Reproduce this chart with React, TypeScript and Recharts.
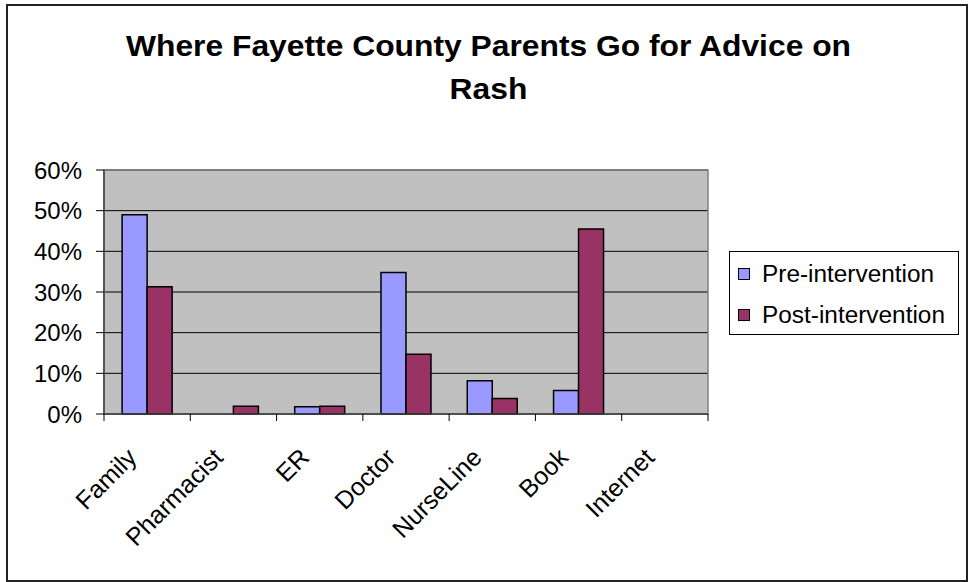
import React from 'react';
import { BarChart, Bar, XAxis, YAxis, CartesianGrid, Legend, ReferenceArea } from 'recharts';

// Sources parents consulted, with the share of answers before and after the intervention (%)
const categories = ['Family', 'Pharmacist', 'ER', 'Doctor', 'NurseLine', 'Book', 'Internet'];
const preIntervention = [49, 0, 1.8, 34.8, 8.2, 5.8, 0];
const postIntervention = [31.3, 1.9, 1.9, 14.7, 3.8, 45.5, 0];
const yTicks = [0, 10, 20, 30, 40, 50, 60];

const seriesOrder = ['pre', 'post'];
const seriesNames: Record<string, string> = { pre: 'Pre-intervention', post: 'Post-intervention' };
const seriesColors: Record<string, string> = { pre: '#9999FF', post: '#993366' };

const data = categories.map((name, i) => ({
  name,
  pre: preIntervention[i],
  post: postIntervention[i],
}));

const FONT = 'Arial, "Liberation Sans", Helvetica, sans-serif';
const X_TICK_SIZE = 7;

// Category label rotated 45°, plus tick marks on the category boundaries
const CategoryTick = (props: any) => {
  const { x, y, payload, index, visibleTicksCount } = props;
  const half = payload?.offset ?? 0;
  const axisY = y - X_TICK_SIZE;
  const tx = x - 9;
  const ty = y + 38;
  const isLast = index === visibleTicksCount - 1;
  return (
    <g>
      <line x1={x - half} x2={x - half} y1={axisY} y2={axisY + X_TICK_SIZE} stroke="#000" strokeWidth={1} />
      {isLast && (
        <line x1={x + half} x2={x + half} y1={axisY} y2={axisY + X_TICK_SIZE} stroke="#000" strokeWidth={1} />
      )}
      <text
        x={tx}
        y={ty}
        textAnchor="end"
        transform={`rotate(-45, ${tx}, ${ty})`}
        fontFamily={FONT}
        fontSize={25}
        fill="#000"
      >
        {payload.value}
      </text>
    </g>
  );
};

const LegendBox = (props: any) => {
  const payload = [...(props.payload || [])].sort(
    (a: any, b: any) => seriesOrder.indexOf(a.dataKey) - seriesOrder.indexOf(b.dataKey)
  );
  return (
    <div
      style={{
        position: 'relative',
        width: 228,
        height: 82,
        border: '1px solid #000',
        background: '#fff',
        boxSizing: 'content-box',
        fontFamily: FONT,
        fontSize: 23,
        color: '#000',
      }}
    >
      {payload.map((entry: any, i: number) => (
        <div
          key={entry.value}
          style={{
            position: 'absolute',
            left: 8,
            top: 9 + i * 41,
            height: 26,
            display: 'flex',
            alignItems: 'center',
            whiteSpace: 'nowrap',
          }}
        >
          <span
            style={{
              display: 'inline-block',
              width: 10,
              height: 10,
              background: entry.color,
              border: '1px solid #000',
              marginRight: 12,
            }}
          />
          <span style={{ display: 'inline-block', transform: 'scaleX(1.06)', transformOrigin: 'left center' }}>
            {entry.value}
          </span>
        </div>
      ))}
    </div>
  );
};

export default function App() {
  return (
    <div style={{ position: 'absolute', left: 0, top: 0, width: 971, height: 582, background: '#fff' }}>
      <div
        style={{
          position: 'absolute',
          left: 6,
          top: 4,
          width: 958,
          height: 574,
          border: '2px solid #222',
        }}
      />
      <div
        style={{
          position: 'absolute',
          left: 9,
          top: 24,
          width: 959,
          textAlign: 'center',
          fontFamily: FONT,
          fontWeight: 'bold',
          fontSize: 30,
          lineHeight: '43px',
          color: '#000',
          transform: 'scaleX(1.06)',
        }}
      >
        Where Fayette County Parents Go for Advice on
        <br />
        Rash
      </div>
      <div style={{ position: 'absolute', left: 0, top: 0 }}>
        <BarChart
          width={971}
          height={582}
          data={data}
          margin={{ top: 170, right: 263, bottom: 68, left: 44 }}
          barCategoryGap="21%"
          barGap={0}
        >
          <CartesianGrid vertical={false} stroke="#000" fill="#C0C0C0" fillOpacity={1} />
          <ReferenceArea y1={0} y2={60} fill="none" stroke="#808080" strokeWidth={1.5} ifOverflow="visible" />
          <XAxis
            dataKey="name"
            height={100}
            interval={0}
            tickLine={false}
            tickSize={X_TICK_SIZE}
            tickMargin={0}
            axisLine={{ stroke: '#404040', strokeWidth: 1.5 }}
            tick={<CategoryTick />}
          />
          <YAxis
            width={60}
            domain={[0, 60]}
            ticks={yTicks}
            interval={0}
            tickFormatter={(v: number) => `${v}%`}
            tickSize={8}
            tickMargin={14}
            tickLine={{ stroke: '#000' }}
            axisLine={{ stroke: '#404040', strokeWidth: 1.5 }}
            tick={{ fill: '#000', fontSize: 24, fontFamily: FONT }}
          />
          <Legend
            layout="vertical"
            align="center"
            verticalAlign="middle"
            content={<LegendBox />}
            wrapperStyle={{ position: 'absolute', left: 729, top: 251, width: 230, height: 84 }}
          />
          <Bar
            dataKey="pre"
            name={seriesNames.pre}
            fill={seriesColors.pre}
            stroke="#000"
            strokeWidth={1.5}
            isAnimationActive={false}
          />
          <Bar
            dataKey="post"
            name={seriesNames.post}
            fill={seriesColors.post}
            stroke="#000"
            strokeWidth={1.5}
            isAnimationActive={false}
          />
        </BarChart>
      </div>
    </div>
  );
}
